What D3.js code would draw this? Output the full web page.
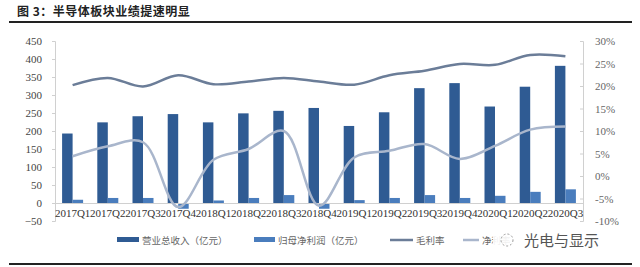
<!DOCTYPE html>
<html><head><meta charset="utf-8">
<script src="https://cdn.jsdelivr.net/npm/d3@7"></script>
<style>body{margin:0;background:#fff}svg{display:block}</style>
</head><body><svg id="c" width="640" height="267"></svg>
<script>
const categories = ["2017Q1","2017Q2","2017Q3","2017Q4","2018Q1","2018Q2","2018Q3","2018Q4","2019Q1","2019Q2","2019Q3","2019Q4","2020Q1","2020Q2","2020Q3"];
const revenue = [193,224,241,247,224,249,256,264,214,252,319,333,268,323,381];
const netProfit = [9,14,14,-16,7,14,22,-16,8,14,22,14,20,31,38];
const grossMargin = [20.2,21.8,19.9,22.4,20.4,21.0,21.8,21.0,20.3,22.4,23.4,24.9,24.7,26.9,26.6];
const netMargin = [4.4,6.6,7.5,-6.9,3.6,6.0,10.0,-6.6,4.1,5.6,7.1,3.8,6.7,10.3,11.0];
const leftTicks = [-50,0,50,100,150,200,250,300,350,400,450];
const rightTicks = [-10,-5,0,5,10,15,20,25,30];
const seriesNames = ["营业总收入（亿元）","归母净利润（亿元）","毛利率","净利率"];
const title = "图 3：半导体板块业绩提速明显";

const colRev = "#2f5b93", colNet = "#4a7dbd", colGross = "#6b7d98", colNetM = "#a9b6cc";
const svg = d3.select("#c");
const serif = "'Liberation Serif','Times New Roman',serif";
const cjk = "'Noto Sans CJK SC',sans-serif";

// title + rules
svg.append("text").attr("x",17).attr("y",16).attr("font-family",cjk).attr("font-weight","bold")
  .attr("font-size",12).attr("letter-spacing",0.5).attr("fill","#222").text(title);
svg.append("line").attr("x1",9).attr("x2",632).attr("y1",22).attr("y2",22).attr("stroke","#222").attr("stroke-width",2);
svg.append("line").attr("x1",9).attr("x2",632).attr("y1",264).attr("y2",264).attr("stroke","#222").attr("stroke-width",2);

const x = d3.scaleBand().domain(categories).range([55,583]).paddingInner(0).paddingOuter(0);
const xs = d3.scaleBand().domain(["rev","net"]).range([0,x.bandwidth()]).paddingInner(0).paddingOuter(0.676);
const yL = d3.scaleLinear().domain([-50,450]).range([221,41]);
const yR = d3.scaleLinear().domain([-10,30]).range([221,41]);

// axes
const axL = svg.append("g").attr("transform","translate(55,0)")
  .call(d3.axisLeft(yL).tickValues(leftTicks).tickSize(3).tickPadding(10));
axL.selectAll("path,line").attr("stroke","#d0d0d0");
axL.selectAll("text").attr("font-family",serif).attr("font-size",11).attr("fill","#444");
const axR = svg.append("g").attr("transform","translate(583,0)")
  .call(d3.axisRight(yR).tickValues(rightTicks).tickSize(-3).tickPadding(12).tickFormat(d=>d+"%"));
axR.selectAll("path,line").attr("stroke","#d0d0d0");
axR.selectAll("text").attr("font-family",serif).attr("font-size",11).attr("fill","#666");

// bars
svg.append("g").selectAll("rect").data(revenue).join("rect")
  .attr("x",(d,i)=>x(categories[i])+xs("rev")).attr("width",xs.bandwidth())
  .attr("y",d=>yL(Math.max(0,d))).attr("height",d=>Math.abs(yL(d)-yL(0)))
  .attr("fill",colRev);
svg.append("g").selectAll("rect").data(netProfit).join("rect")
  .attr("x",(d,i)=>x(categories[i])+xs("net")).attr("width",xs.bandwidth())
  .attr("y",d=>yL(Math.max(0,d))).attr("height",d=>Math.abs(yL(d)-yL(0)))
  .attr("fill",colNet);

// x axis at zero
const axX = svg.append("g").attr("transform",`translate(0,${yL(0)})`)
  .call(d3.axisBottom(x).tickSize(0).tickPadding(6));
axX.select("path").attr("stroke","#d0d0d0");
axX.selectAll("text").attr("font-family",serif).attr("font-size",11).attr("fill","#333");

// lines
const cx = (d,i)=>x(categories[i])+x.bandwidth()/2;
const lineG = d3.line().x(cx).y(d=>yR(d)).curve(d3.curveCatmullRom.alpha(0.5));
svg.append("path").attr("d",lineG(grossMargin)).attr("fill","none").attr("stroke",colGross).attr("stroke-width",2.5);
svg.append("path").attr("d",lineG(netMargin)).attr("fill","none").attr("stroke",colNetM).attr("stroke-width",2.5);

// legend
const lg = svg.append("g").attr("font-family",cjk).attr("font-size",9.5).attr("fill","#666");
const items = [
  {x:117, type:"bar", c:colRev, w:22},
  {x:254, type:"bar", c:colNet, w:21},
  {x:390, type:"line", c:colGross, w:23},
  {x:463, type:"line", c:colNetM, w:16}
];
items.forEach((it,i)=>{
  if(it.type==="bar") lg.append("rect").attr("x",it.x).attr("y",237).attr("width",it.w).attr("height",5).attr("fill",it.c);
  else lg.append("line").attr("x1",it.x).attr("x2",it.x+it.w).attr("y1",240).attr("y2",240).attr("stroke",it.c).attr("stroke-width",2.5);
  lg.append("text").attr("x",it.x+it.w+3).attr("y",243.5).text(seriesNames[i]);
});

// watermark
svg.append("rect").attr("x",493).attr("y",228).attr("width",115).attr("height",24).attr("fill","#fff").attr("opacity",0.9);
svg.append("circle").attr("cx",507).attr("cy",240).attr("r",6).attr("fill","none").attr("stroke","#999").attr("stroke-dasharray","2,2");
svg.append("text").attr("x",524).attr("y",245.5).attr("font-family",cjk).attr("font-size",15).attr("fill","#555").text("光电与显示");
</script></body></html>
